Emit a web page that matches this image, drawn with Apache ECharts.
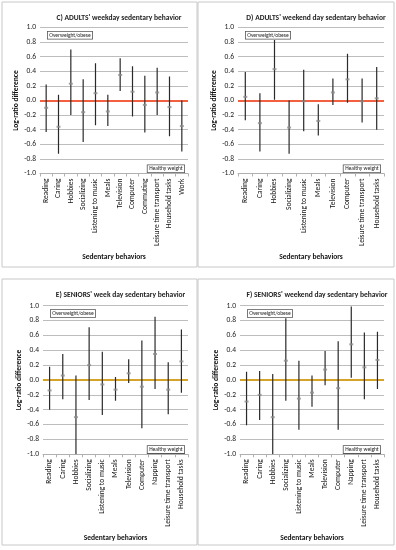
<!DOCTYPE html>
<html><head><meta charset="utf-8">
<script src="https://cdn.jsdelivr.net/npm/echarts@6/dist/echarts.min.js"></script>
<style>html,body{margin:0;padding:0;background:#fff}#c{width:396px;height:550px}</style>
</head><body><div id="c"></div>
<script>
// ---- data ----
const titleC = "C) ADULTS' weekday sedentary behavior";
const catsC = ["Reading","Caring","Hobbies","Socializing","Listening to music","Meals","Television","Computer","Commuting","Leisure time transport","Household tasks","Work"];
const midC  = [-0.10,-0.36,0.23,-0.16,0.10,-0.15,0.35,0.12,-0.06,0.11,-0.09,-0.35];
const lowC  = [-0.43,-0.73,-0.20,-0.57,-0.34,-0.35,0.13,-0.22,-0.44,-0.20,-0.49,-0.70];
const highC = [0.22,0.08,0.70,0.29,0.51,0.08,0.58,0.47,0.34,0.45,0.33,0.00];

const titleD = "D) ADULTS' weekend day sedentary behavior";
const catsD = ["Reading","Caring","Hobbies","Socializing","Listening to music","Meals","Television","Computer","Leisure time transport","Household tasks"];
const midD  = [0.05,-0.31,0.43,-0.37,-0.01,-0.28,0.11,0.29,-0.01,0.03];
const lowD  = [-0.27,-0.70,0.01,-0.73,-0.42,-0.48,-0.06,-0.03,-0.30,-0.40];
const highD = [0.39,0.10,0.83,0.00,0.42,-0.05,0.30,0.64,0.30,0.46];

const titleE = "E) SENIORS' week day sedentary behavior";
const catsE = ["Reading","Caring","Hobbies","Socializing","Listening to music","Meals","Television","Computer","Napping","Leisure time transport","Household tasks"];
const midE  = [-0.14,0.06,-0.50,0.20,-0.06,-0.13,0.09,-0.09,0.35,-0.13,0.25];
const lowE  = [-0.40,-0.26,-1.00,-0.27,-0.47,-0.28,-0.04,-0.65,-0.12,-0.46,-0.17];
const highE = [0.18,0.35,0.06,0.71,0.38,0.04,0.28,0.53,0.85,0.24,0.68];

const titleF = "F) SENIORS' weekend day sedentary behavior";
const catsF = ["Reading","Caring","Hobbies","Socializing","Listening to music","Meals","Television","Computer","Napping","Leisure time transport","Household tasks"];
const midF  = [-0.29,-0.20,-0.50,0.26,-0.25,-0.17,0.14,-0.11,0.48,0.17,0.27];
const lowF  = [-0.61,-0.54,-1.00,-0.28,-0.67,-0.36,-0.07,-0.67,0.03,-0.26,-0.12];
const highF = [0.11,0.12,0.08,0.83,0.26,0.06,0.39,0.52,0.99,0.64,0.65];

const yAxisName = "Log-ratio difference";
const xAxisName = "Sedentary behaviors";
const topBoxText = "Overweight/obese";
const bottomBoxText = "Healthy weight";

// ---- layout ----
const FONT = '"Liberation Sans Narrow", Carlito, "Open Sans", sans-serif';
const panels = [
  {title:titleC, cats:catsC, mid:midC, low:lowC, high:highC, box:[2,2,195,265], grid:{left:40,top:27.5,width:148,height:146}, zero:'#f26040', tY:9},
  {title:titleD, cats:catsD, mid:midD, low:lowD, high:highD, box:[198,2,196,265], grid:{left:238,top:27.5,width:146,height:146}, zero:'#f26040', tY:9},
  {title:titleE, cats:catsE, mid:midE, low:lowE, high:highE, box:[2,279,195,266], grid:{left:43,top:305.7,width:145,height:148.6}, zero:'#d6a32a', tY:286},
  {title:titleF, cats:catsF, mid:midF, low:lowF, high:highF, box:[198,279,196,266], grid:{left:240,top:305.7,width:144,height:148.6}, zero:'#d6a32a', tY:286}
];

const option = {
  animation:false,
  backgroundColor:'#fff',
  textStyle:{fontFamily:FONT},
  title:[], grid:[], xAxis:[], yAxis:[], series:[], graphic:[]
};

panels.forEach((p,i)=>{
  const g = p.grid;
  option.graphic.push({type:'rect', shape:{x:p.box[0],y:p.box[1],width:p.box[2],height:p.box[3]}, style:{fill:'none',stroke:'#c8c8c8',lineWidth:1}, z:-1});
  option.title.push({text:p.title, left:g.left + g.width/2, top:p.tY, textAlign:'center',
    textStyle:{fontFamily:FONT,fontSize:7.5,fontWeight:'bold',color:'#222'}});
  option.grid.push({left:g.left, top:g.top, width:g.width, height:g.height, containLabel:false});
  option.xAxis.push({type:'category', gridIndex:i, data:p.cats, boundaryGap:true,
    axisLine:{show:true,onZero:false,lineStyle:{color:'#b0b0b0'}},
    axisTick:{show:true,length:3,alignWithLabel:false,lineStyle:{color:'#b0b0b0'}},
    axisLabel:{rotate:90,fontSize:7.5,color:'#111',fontFamily:FONT,margin:5,interval:0},
    name:xAxisName, nameLocation:'middle', nameGap:80,
    nameTextStyle:{fontSize:7.5,fontWeight:'bold',color:'#111',fontFamily:FONT}});
  option.yAxis.push({type:'value', gridIndex:i, min:-1, max:1, interval:0.2,
    axisLine:{show:false}, axisTick:{show:false},
    splitLine:{lineStyle:{color:'#bdbdbd',width:1}},
    axisLabel:{fontSize:7.5,color:'#222',fontFamily:FONT,margin:4,formatter:v=>v.toFixed(1)},
    name:yAxisName, nameLocation:'middle', nameGap:19,
    nameTextStyle:{fontSize:7.5,fontWeight:'bold',color:'#111',fontFamily:FONT}});
  option.series.push({type:'custom', xAxisIndex:i, yAxisIndex:i, clip:true, z:3,
    data:p.cats.map((c,k)=>[k,p.low[k],p.high[k]]),
    renderItem:(params,api)=>{
      const a = api.coord([api.value(0),api.value(1)]);
      const b = api.coord([api.value(0),api.value(2)]);
      return {type:'line', shape:{x1:a[0],y1:a[1],x2:b[0],y2:b[1]}, style:{stroke:'#2a2a2a',lineWidth:1.2}};
    },
    markLine:{silent:true, symbol:'none', label:{show:false}, z:2,
      lineStyle:{color:p.zero,width:1.8,type:'solid'}, data:[{yAxis:0}]}
  });
  option.series.push({type:'scatter', xAxisIndex:i, yAxisIndex:i, z:4,
    symbol:'rect', symbolSize:[4,2], itemStyle:{color:'#8c8c8c'},
    data:p.cats.map((c,k)=>[k,p.mid[k]])});
  // inner legend-like boxes
  option.graphic.push({type:'text', left:g.left+7, top:g.top+3.5,
    style:{text:topBoxText, fontSize:5.5, fontFamily:FONT, fill:'#222',
      backgroundColor:'#fff', borderColor:'#555', borderWidth:0.8, padding:[0.5,1.5]}, z:10});
  option.graphic.push({type:'text', right:396-(g.left+g.width)+3, top:g.top+g.height-9,
    style:{text:bottomBoxText, fontSize:5.5, fontFamily:FONT, fill:'#222',
      backgroundColor:'#fff', borderColor:'#555', borderWidth:0.8, padding:[0.5,1.5]}, z:10});
});

const chart = echarts.init(document.getElementById('c'), null, {renderer:'canvas', width:396, height:550});
chart.setOption(option);
</script></body></html>
